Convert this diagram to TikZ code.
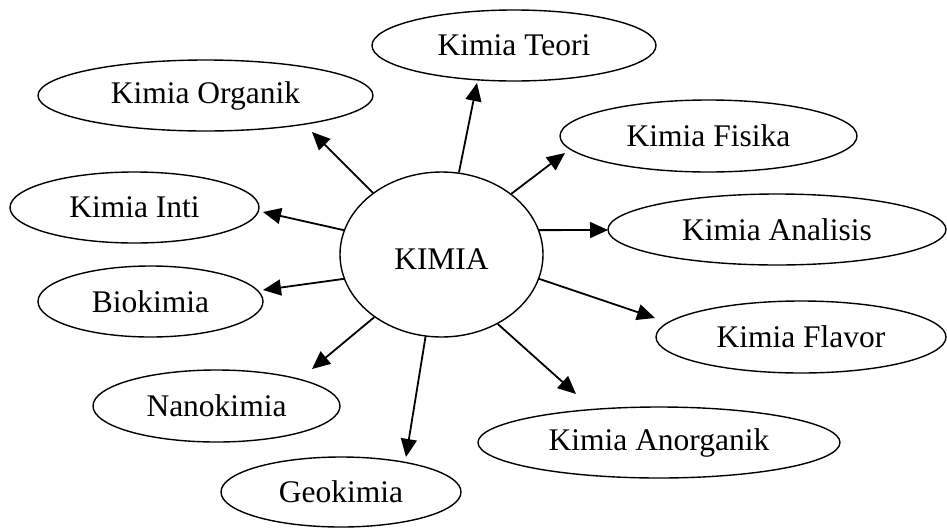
\documentclass[tikz,border=0pt]{standalone}
\usepackage{fontspec}
\setmainfont{Liberation Serif}
\usetikzlibrary{shapes.geometric,arrows.meta}
\tikzset{
  topic/.style={draw, ellipse, line width=1.4pt, inner sep=0pt, font=\fontsize{31.5}{36}\selectfont},
  link/.style={line width=1.8pt, -{Triangle[length=18pt,width=16pt]}}
}
\begin{document}
\begin{tikzpicture}[x=1pt,y=-1pt]
\useasboundingbox (0,0) rectangle (947,528);
\node[topic, minimum width=203pt, minimum height=165pt] (c) at (441.5,254.5) {\raisebox{-5pt}[\height][\depth]{KIMIA}};
\node[topic, minimum width=335pt, minimum height=71pt] (org) at (205.5,95.5) {Kimia Organik};
\node[topic, minimum width=249pt, minimum height=71pt] (inti) at (134.5,207.5) {Kimia Inti};
\node[topic, minimum width=284pt, minimum height=71pt] (teori) at (514,45.5) {Kimia Teori};
\node[topic, minimum width=297pt, minimum height=72pt] (fis) at (708.5,136) {Kimia Fisika};
\node[topic, minimum width=338pt, minimum height=71pt] (ana) at (777,229.5) {Kimia Analisis};
\node[topic, minimum width=290pt, minimum height=72pt] (fla) at (801,337) {Kimia Flavor};
\node[topic, minimum width=362pt, minimum height=71pt] (anorg) at (659,442.5) {Kimia Anorganik};
\node[topic, minimum width=225pt, minimum height=71pt] (bio) at (150.5,301.5) {Biokimia};
\node[topic, minimum width=247pt, minimum height=72pt] (nano) at (216.5,406) {Nanokimia};
\node[topic, minimum width=240pt, minimum height=70pt] (geo) at (341,492) {Geokimia};
\coordinate (tteori) at (477,83);
\coordinate (tfis) at (565,153);
\coordinate (tana) at (608,230);
\coordinate (tfla) at (655,318);
\coordinate (tanorg) at (576,394);
\coordinate (tgeo) at (406,457);
\coordinate (tnano) at (312,369);
\coordinate (tbio) at (263,290);
\coordinate (tinti) at (263,212);
\coordinate (torg) at (312,132);
\draw[link] (c.78) -- (tteori);
\draw[link] (c.41.9) -- (tfis);
\draw[link] (c.14.1) -- (tana);
\draw[link] (c.-14.1) -- (tfla);
\draw[link] (c.-51.8) -- (tanorg);
\draw[link] (c.259.4) -- (tgeo);
\draw[link] (c.223.3) -- (tnano);
\draw[link] (c.194) -- (tbio);
\draw[link] (c.166) -- (tinti);
\draw[link] (c.138.1) -- (torg);
\end{tikzpicture}
\end{document}
